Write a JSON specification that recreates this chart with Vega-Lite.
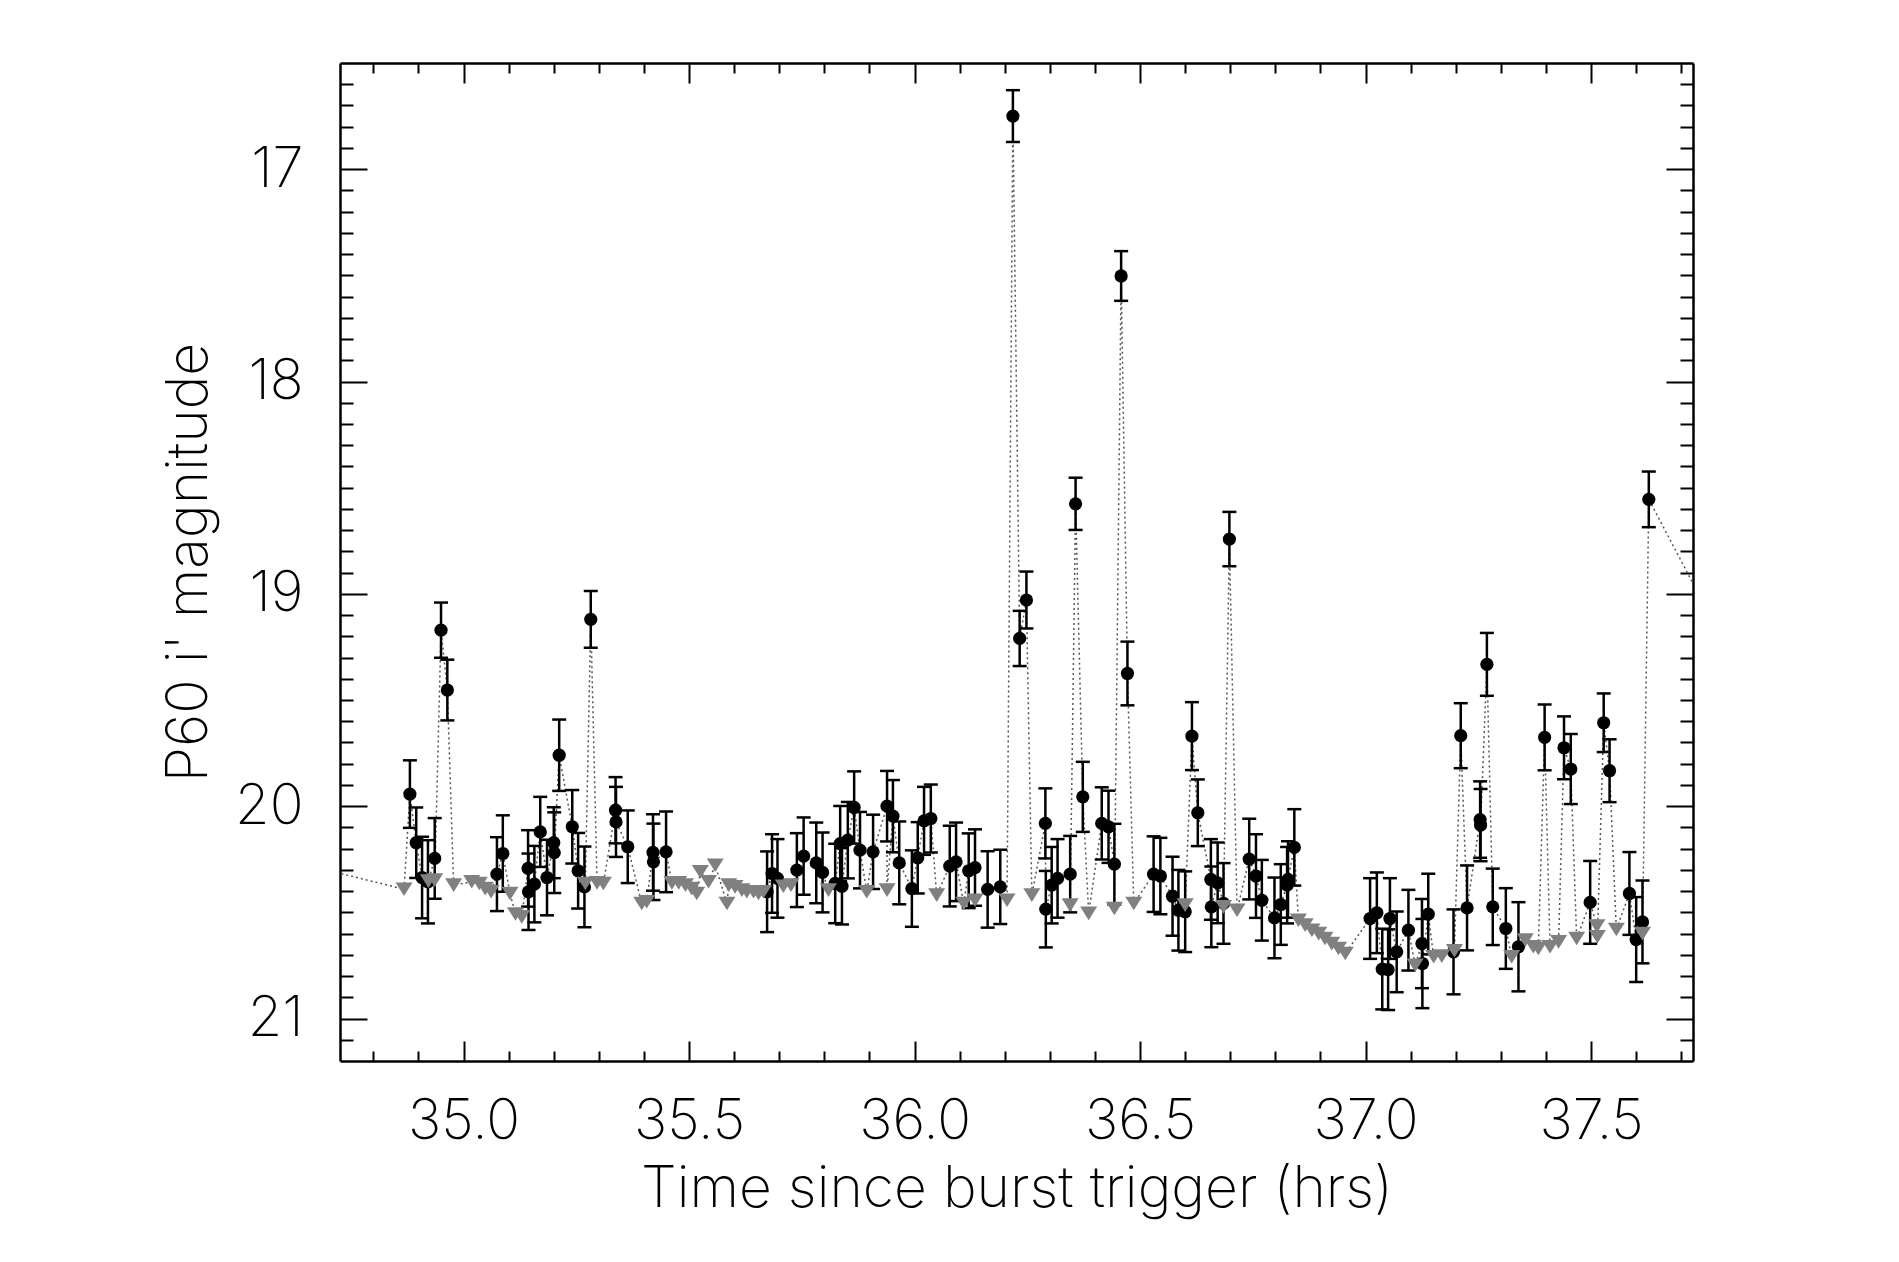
{
  "$schema": "https://vega.github.io/schema/vega-lite/v6.json",
  "width": 1353,
  "height": 998,
  "autosize": "none",
  "padding": {"left": 340, "top": 63, "right": 206, "bottom": 201},
  "background": "white",
  "config": {"view": {"stroke": null}, "axis": {"grid": false}},
  "datasets": {
    "obs": [
      {"t":34.6,"m":20.25,"k":"x"},
      {"t":37.8,"m":19.25,"k":"x"},
      {"t":34.881,"m":19.943,"lo":19.784,"hi":20.102,"k":"d"},
      {"t":34.895,"m":20.172,"lo":20.006,"hi":20.338,"k":"d"},
      {"t":34.908,"m":20.336,"lo":20.144,"hi":20.528,"k":"d"},
      {"t":34.921,"m":20.356,"lo":20.160,"hi":20.552,"k":"d"},
      {"t":34.936,"m":20.246,"lo":20.056,"hi":20.436,"k":"d"},
      {"t":34.950,"m":19.171,"lo":19.041,"hi":19.301,"k":"d"},
      {"t":34.964,"m":19.453,"lo":19.310,"hi":19.596,"k":"d"},
      {"t":35.074,"m":20.320,"lo":20.146,"hi":20.494,"k":"d"},
      {"t":35.087,"m":20.223,"lo":20.043,"hi":20.403,"k":"d"},
      {"t":35.143,"m":20.293,"lo":20.113,"hi":20.473,"k":"d"},
      {"t":35.144,"m":20.403,"lo":20.223,"hi":20.583,"k":"d"},
      {"t":35.157,"m":20.367,"lo":20.187,"hi":20.547,"k":"d"},
      {"t":35.170,"m":20.121,"lo":19.956,"hi":20.286,"k":"d"},
      {"t":35.185,"m":20.336,"lo":20.158,"hi":20.514,"k":"d"},
      {"t":35.200,"m":20.172,"lo":20.005,"hi":20.339,"k":"d"},
      {"t":35.201,"m":20.219,"lo":20.029,"hi":20.409,"k":"d"},
      {"t":35.212,"m":19.760,"lo":19.592,"hi":19.928,"k":"d"},
      {"t":35.241,"m":20.097,"lo":19.924,"hi":20.270,"k":"d"},
      {"t":35.254,"m":20.304,"lo":20.126,"hi":20.482,"k":"d"},
      {"t":35.268,"m":20.380,"lo":20.190,"hi":20.570,"k":"d"},
      {"t":35.282,"m":19.120,"lo":18.986,"hi":19.254,"k":"d"},
      {"t":35.337,"m":20.019,"lo":19.863,"hi":20.175,"k":"d"},
      {"t":35.338,"m":20.074,"lo":19.909,"hi":20.239,"k":"d"},
      {"t":35.364,"m":20.191,"lo":20.020,"hi":20.362,"k":"d"},
      {"t":35.420,"m":20.218,"lo":20.038,"hi":20.398,"k":"d"},
      {"t":35.421,"m":20.262,"lo":20.082,"hi":20.442,"k":"d"},
      {"t":35.449,"m":20.215,"lo":20.025,"hi":20.405,"k":"d"},
      {"t":35.673,"m":20.403,"lo":20.213,"hi":20.593,"k":"d"},
      {"t":35.684,"m":20.317,"lo":20.132,"hi":20.502,"k":"d"},
      {"t":35.696,"m":20.340,"lo":20.155,"hi":20.525,"k":"d"},
      {"t":35.739,"m":20.301,"lo":20.127,"hi":20.475,"k":"d"},
      {"t":35.754,"m":20.235,"lo":20.053,"hi":20.417,"k":"d"},
      {"t":35.782,"m":20.267,"lo":20.077,"hi":20.457,"k":"d"},
      {"t":35.796,"m":20.312,"lo":20.124,"hi":20.500,"k":"d"},
      {"t":35.824,"m":20.364,"lo":20.177,"hi":20.551,"k":"d"},
      {"t":35.835,"m":20.176,"lo":19.999,"hi":20.353,"k":"d"},
      {"t":35.839,"m":20.377,"lo":20.197,"hi":20.557,"k":"d"},
      {"t":35.852,"m":20.160,"lo":19.980,"hi":20.340,"k":"d"},
      {"t":35.866,"m":20.006,"lo":19.836,"hi":20.176,"k":"d"},
      {"t":35.879,"m":20.207,"lo":20.027,"hi":20.387,"k":"d"},
      {"t":35.908,"m":20.215,"lo":20.040,"hi":20.390,"k":"d"},
      {"t":35.939,"m":20.000,"lo":19.834,"hi":20.166,"k":"d"},
      {"t":35.952,"m":20.047,"lo":19.877,"hi":20.217,"k":"d"},
      {"t":35.966,"m":20.267,"lo":20.072,"hi":20.462,"k":"d"},
      {"t":35.994,"m":20.388,"lo":20.208,"hi":20.568,"k":"d"},
      {"t":36.007,"m":20.243,"lo":20.075,"hi":20.411,"k":"d"},
      {"t":36.021,"m":20.069,"lo":19.909,"hi":20.229,"k":"d"},
      {"t":36.036,"m":20.058,"lo":19.898,"hi":20.218,"k":"d"},
      {"t":36.078,"m":20.282,"lo":20.092,"hi":20.472,"k":"d"},
      {"t":36.092,"m":20.262,"lo":20.077,"hi":20.447,"k":"d"},
      {"t":36.120,"m":20.304,"lo":20.128,"hi":20.480,"k":"d"},
      {"t":36.134,"m":20.289,"lo":20.109,"hi":20.469,"k":"d"},
      {"t":36.162,"m":20.392,"lo":20.212,"hi":20.572,"k":"d"},
      {"t":36.190,"m":20.380,"lo":20.205,"hi":20.555,"k":"d"},
      {"t":36.218,"m":16.750,"lo":16.628,"hi":16.872,"k":"d"},
      {"t":36.233,"m":19.210,"lo":19.080,"hi":19.340,"k":"d"},
      {"t":36.248,"m":19.029,"lo":18.895,"hi":19.163,"k":"d"},
      {"t":36.290,"m":20.081,"lo":19.916,"hi":20.246,"k":"d"},
      {"t":36.291,"m":20.485,"lo":20.305,"hi":20.665,"k":"d"},
      {"t":36.304,"m":20.372,"lo":20.192,"hi":20.552,"k":"d"},
      {"t":36.317,"m":20.340,"lo":20.155,"hi":20.525,"k":"d"},
      {"t":36.345,"m":20.320,"lo":20.140,"hi":20.500,"k":"d"},
      {"t":36.357,"m":18.576,"lo":18.453,"hi":18.699,"k":"d"},
      {"t":36.373,"m":19.956,"lo":19.791,"hi":20.121,"k":"d"},
      {"t":36.415,"m":20.081,"lo":19.911,"hi":20.251,"k":"d"},
      {"t":36.430,"m":20.097,"lo":19.927,"hi":20.267,"k":"d"},
      {"t":36.443,"m":20.273,"lo":20.083,"hi":20.463,"k":"d"},
      {"t":36.458,"m":17.503,"lo":17.386,"hi":17.620,"k":"d"},
      {"t":36.472,"m":19.375,"lo":19.225,"hi":19.525,"k":"d"},
      {"t":36.530,"m":20.320,"lo":20.142,"hi":20.498,"k":"d"},
      {"t":36.545,"m":20.329,"lo":20.149,"hi":20.509,"k":"d"},
      {"t":36.572,"m":20.424,"lo":20.238,"hi":20.610,"k":"d"},
      {"t":36.585,"m":20.490,"lo":20.300,"hi":20.680,"k":"d"},
      {"t":36.600,"m":20.497,"lo":20.307,"hi":20.687,"k":"d"},
      {"t":36.615,"m":19.670,"lo":19.510,"hi":19.830,"k":"d"},
      {"t":36.628,"m":20.031,"lo":19.874,"hi":20.188,"k":"d"},
      {"t":36.657,"m":20.345,"lo":20.155,"hi":20.535,"k":"d"},
      {"t":36.658,"m":20.474,"lo":20.284,"hi":20.664,"k":"d"},
      {"t":36.672,"m":20.361,"lo":20.171,"hi":20.551,"k":"d"},
      {"t":36.685,"m":20.458,"lo":20.268,"hi":20.648,"k":"d"},
      {"t":36.698,"m":18.742,"lo":18.614,"hi":18.870,"k":"d"},
      {"t":36.742,"m":20.249,"lo":20.059,"hi":20.439,"k":"d"},
      {"t":36.757,"m":20.329,"lo":20.132,"hi":20.526,"k":"d"},
      {"t":36.770,"m":20.443,"lo":20.253,"hi":20.633,"k":"d"},
      {"t":36.798,"m":20.526,"lo":20.336,"hi":20.716,"k":"d"},
      {"t":36.812,"m":20.463,"lo":20.273,"hi":20.653,"k":"d"},
      {"t":36.826,"m":20.372,"lo":20.192,"hi":20.552,"k":"d"},
      {"t":36.828,"m":20.345,"lo":20.165,"hi":20.525,"k":"d"},
      {"t":36.842,"m":20.194,"lo":20.014,"hi":20.374,"k":"d"},
      {"t":37.010,"m":20.529,"lo":20.339,"hi":20.719,"k":"d"},
      {"t":37.025,"m":20.502,"lo":20.312,"hi":20.692,"k":"d"},
      {"t":37.037,"m":20.767,"lo":20.577,"hi":20.957,"k":"d"},
      {"t":37.050,"m":20.770,"lo":20.580,"hi":20.960,"k":"d"},
      {"t":37.054,"m":20.529,"lo":20.339,"hi":20.719,"k":"d"},
      {"t":37.069,"m":20.686,"lo":20.496,"hi":20.876,"k":"d"},
      {"t":37.095,"m":20.584,"lo":20.394,"hi":20.774,"k":"d"},
      {"t":37.125,"m":20.647,"lo":20.437,"hi":20.857,"k":"d"},
      {"t":37.126,"m":20.741,"lo":20.531,"hi":20.951,"k":"d"},
      {"t":37.139,"m":20.508,"lo":20.318,"hi":20.698,"k":"d"},
      {"t":37.195,"m":20.686,"lo":20.486,"hi":20.886,"k":"d"},
      {"t":37.211,"m":19.668,"lo":19.515,"hi":19.821,"k":"d"},
      {"t":37.225,"m":20.479,"lo":20.279,"hi":20.679,"k":"d"},
      {"t":37.254,"m":20.063,"lo":19.883,"hi":20.243,"k":"d"},
      {"t":37.255,"m":20.089,"lo":19.919,"hi":20.259,"k":"d"},
      {"t":37.269,"m":19.332,"lo":19.184,"hi":19.480,"k":"d"},
      {"t":37.282,"m":20.474,"lo":20.294,"hi":20.654,"k":"d"},
      {"t":37.311,"m":20.576,"lo":20.386,"hi":20.766,"k":"d"},
      {"t":37.339,"m":20.662,"lo":20.452,"hi":20.872,"k":"d"},
      {"t":37.397,"m":19.676,"lo":19.521,"hi":19.831,"k":"d"},
      {"t":37.440,"m":19.725,"lo":19.577,"hi":19.873,"k":"d"},
      {"t":37.455,"m":19.825,"lo":19.660,"hi":19.990,"k":"d"},
      {"t":37.498,"m":20.453,"lo":20.258,"hi":20.648,"k":"d"},
      {"t":37.528,"m":19.607,"lo":19.469,"hi":19.745,"k":"d"},
      {"t":37.541,"m":19.833,"lo":19.685,"hi":19.981,"k":"d"},
      {"t":37.585,"m":20.411,"lo":20.216,"hi":20.606,"k":"d"},
      {"t":37.600,"m":20.628,"lo":20.428,"hi":20.828,"k":"d"},
      {"t":37.614,"m":20.545,"lo":20.350,"hi":20.740,"k":"d"},
      {"t":37.628,"m":18.555,"lo":18.424,"hi":18.686,"k":"d"},
      {"t":34.868,"m":20.391,"k":"u"},
      {"t":34.922,"m":20.353,"k":"u"},
      {"t":34.936,"m":20.348,"k":"u"},
      {"t":34.978,"m":20.372,"k":"u"},
      {"t":35.018,"m":20.356,"k":"u"},
      {"t":35.035,"m":20.364,"k":"u"},
      {"t":35.048,"m":20.388,"k":"u"},
      {"t":35.061,"m":20.403,"k":"u"},
      {"t":35.103,"m":20.411,"k":"u"},
      {"t":35.115,"m":20.508,"k":"u"},
      {"t":35.129,"m":20.521,"k":"u"},
      {"t":35.270,"m":20.364,"k":"u"},
      {"t":35.296,"m":20.361,"k":"u"},
      {"t":35.310,"m":20.364,"k":"u"},
      {"t":35.395,"m":20.458,"k":"u"},
      {"t":35.406,"m":20.450,"k":"u"},
      {"t":35.462,"m":20.361,"k":"u"},
      {"t":35.477,"m":20.361,"k":"u"},
      {"t":35.492,"m":20.372,"k":"u"},
      {"t":35.506,"m":20.388,"k":"u"},
      {"t":35.517,"m":20.411,"k":"u"},
      {"t":35.525,"m":20.309,"k":"u"},
      {"t":35.543,"m":20.356,"k":"u"},
      {"t":35.558,"m":20.278,"k":"u"},
      {"t":35.584,"m":20.458,"k":"u"},
      {"t":35.588,"m":20.372,"k":"u"},
      {"t":35.602,"m":20.380,"k":"u"},
      {"t":35.617,"m":20.395,"k":"u"},
      {"t":35.628,"m":20.403,"k":"u"},
      {"t":35.643,"m":20.403,"k":"u"},
      {"t":35.654,"m":20.411,"k":"u"},
      {"t":35.665,"m":20.403,"k":"u"},
      {"t":35.709,"m":20.377,"k":"u"},
      {"t":35.726,"m":20.372,"k":"u"},
      {"t":35.809,"m":20.395,"k":"u"},
      {"t":35.894,"m":20.403,"k":"u"},
      {"t":35.939,"m":20.395,"k":"u"},
      {"t":36.049,"m":20.419,"k":"u"},
      {"t":36.109,"m":20.458,"k":"u"},
      {"t":36.134,"m":20.443,"k":"u"},
      {"t":36.205,"m":20.443,"k":"u"},
      {"t":36.260,"m":20.419,"k":"u"},
      {"t":36.345,"m":20.466,"k":"u"},
      {"t":36.386,"m":20.505,"k":"u"},
      {"t":36.443,"m":20.482,"k":"u"},
      {"t":36.486,"m":20.458,"k":"u"},
      {"t":36.600,"m":20.466,"k":"u"},
      {"t":36.685,"m":20.474,"k":"u"},
      {"t":36.715,"m":20.490,"k":"u"},
      {"t":36.851,"m":20.537,"k":"u"},
      {"t":36.866,"m":20.560,"k":"u"},
      {"t":36.881,"m":20.584,"k":"u"},
      {"t":36.896,"m":20.600,"k":"u"},
      {"t":36.910,"m":20.623,"k":"u"},
      {"t":36.925,"m":20.647,"k":"u"},
      {"t":36.940,"m":20.670,"k":"u"},
      {"t":36.955,"m":20.694,"k":"u"},
      {"t":37.110,"m":20.749,"k":"u"},
      {"t":37.151,"m":20.709,"k":"u"},
      {"t":37.169,"m":20.706,"k":"u"},
      {"t":37.197,"m":20.681,"k":"u"},
      {"t":37.324,"m":20.709,"k":"u"},
      {"t":37.354,"m":20.631,"k":"u"},
      {"t":37.372,"m":20.662,"k":"u"},
      {"t":37.383,"m":20.670,"k":"u"},
      {"t":37.409,"m":20.662,"k":"u"},
      {"t":37.428,"m":20.639,"k":"u"},
      {"t":37.468,"m":20.623,"k":"u"},
      {"t":37.513,"m":20.565,"k":"u"},
      {"t":37.514,"m":20.615,"k":"u"},
      {"t":37.556,"m":20.581,"k":"u"},
      {"t":37.614,"m":20.600,"k":"u"}
    ]
  },
  "data": {"name": "obs"},
  "resolve": {"axis": {"x": "independent", "y": "independent"}},
  "layer": [
    {
      "mark": {"type": "line", "strokeDash": [2, 3], "strokeWidth": 1.5, "color": "#555555", "clip": true},
      "encoding": {
        "x": {"field": "t", "type": "quantitative", "scale": {"domain": [34.726, 37.726], "nice": false, "zero": false},
          "axis": {"orient": "bottom", "values": [35, 35.5, 36, 36.5, 37, 37.5], "tickSize": -20, "tickWidth": 2, "tickColor": "black", "labels": false, "title": null, "domain": true, "domainColor": "black", "domainWidth": 2.5}},
        "y": {"field": "m", "type": "quantitative", "scale": {"domain": [16.5, 21.2], "reverse": true, "nice": false, "zero": false},
          "axis": {"orient": "left", "values": [17, 18, 19, 20, 21], "tickSize": -27, "tickWidth": 2, "tickColor": "black", "labels": false, "title": null, "domain": true, "domainColor": "black", "domainWidth": 2.5}}
      }
    },
    {
      "transform": [{"filter": "datum.k == 'd'"}],
      "mark": {"type": "rule", "color": "black", "strokeWidth": 2.5},
      "encoding": {
        "x": {"field": "t", "type": "quantitative",
          "axis": {"orient": "bottom", "values": [34.8, 34.9, 35.1, 35.2, 35.3, 35.4, 35.6, 35.7, 35.8, 35.9, 36.1, 36.2, 36.3, 36.4, 36.6, 36.7, 36.8, 36.9, 37.1, 37.2, 37.3, 37.4, 37.6, 37.7], "tickSize": -10, "tickWidth": 2, "tickColor": "black", "labels": false, "title": null, "domain": false}},
        "y": {"field": "lo", "type": "quantitative",
          "axis": {"orient": "left", "values": [16.6, 16.7, 16.8, 16.9, 17.1, 17.2, 17.3, 17.4, 17.5, 17.6, 17.7, 17.8, 17.9, 18.1, 18.2, 18.3, 18.4, 18.5, 18.6, 18.7, 18.8, 18.9, 19.1, 19.2, 19.3, 19.4, 19.5, 19.6, 19.7, 19.8, 19.9, 20.1, 20.2, 20.3, 20.4, 20.5, 20.6, 20.7, 20.8, 20.9, 21.1], "tickSize": -13, "tickWidth": 2, "tickColor": "black", "labels": false, "title": null, "domain": false}},
        "y2": {"field": "hi"}
      }
    },
    {
      "transform": [{"filter": "datum.k == 'd'"}],
      "mark": {"type": "tick", "orient": "horizontal", "color": "black", "size": 14, "thickness": 2.5, "opacity": 1},
      "encoding": {
        "x": {"field": "t", "type": "quantitative",
          "axis": {"orient": "top", "values": [35, 35.5, 36, 36.5, 37, 37.5], "tickSize": -20, "tickWidth": 2, "tickColor": "black", "labels": false, "title": null, "domain": true, "domainColor": "black", "domainWidth": 2.5}},
        "y": {"field": "lo", "type": "quantitative",
          "axis": {"orient": "right", "values": [17, 18, 19, 20, 21], "tickSize": -27, "tickWidth": 2, "tickColor": "black", "labels": false, "title": null, "domain": true, "domainColor": "black", "domainWidth": 2.5}}
      }
    },
    {
      "transform": [{"filter": "datum.k == 'd'"}],
      "mark": {"type": "tick", "orient": "horizontal", "color": "black", "size": 14, "thickness": 2.5, "opacity": 1},
      "encoding": {
        "x": {"field": "t", "type": "quantitative",
          "axis": {"orient": "top", "values": [34.8, 34.9, 35.1, 35.2, 35.3, 35.4, 35.6, 35.7, 35.8, 35.9, 36.1, 36.2, 36.3, 36.4, 36.6, 36.7, 36.8, 36.9, 37.1, 37.2, 37.3, 37.4, 37.6, 37.7], "tickSize": -10, "tickWidth": 2, "tickColor": "black", "labels": false, "title": null, "domain": false}},
        "y": {"field": "hi", "type": "quantitative",
          "axis": {"orient": "right", "values": [16.6, 16.7, 16.8, 16.9, 17.1, 17.2, 17.3, 17.4, 17.5, 17.6, 17.7, 17.8, 17.9, 18.1, 18.2, 18.3, 18.4, 18.5, 18.6, 18.7, 18.8, 18.9, 19.1, 19.2, 19.3, 19.4, 19.5, 19.6, 19.7, 19.8, 19.9, 20.1, 20.2, 20.3, 20.4, 20.5, 20.6, 20.7, 20.8, 20.9, 21.1], "tickSize": -13, "tickWidth": 2, "tickColor": "black", "labels": false, "title": null, "domain": false}}
      }
    },
    {
      "transform": [{"filter": "datum.k == 'd'"}],
      "mark": {"type": "point", "shape": "circle", "filled": true, "color": "black", "size": 175, "opacity": 1},
      "encoding": {
        "x": {"field": "t", "type": "quantitative",
          "axis": {"orient": "bottom", "values": [35, 35.5, 36, 36.5, 37, 37.5], "format": ".1f", "ticks": false, "domain": false, "labelPadding": 33, "labelFont": "Inter", "labelFontWeight": 200, "labelFontSize": 56, "labelColor": "black", "labelFlush": false, "labelOverlap": false,
            "title": "Time since burst trigger (hrs)", "titleFont": "Inter", "titleFontWeight": 200, "titleFontSize": 57, "titleColor": "black", "titlePadding": 12}},
        "y": {"field": "m", "type": "quantitative",
          "axis": {"orient": "left", "values": [17, 18, 19, 20, 21], "format": "d", "ticks": false, "domain": false, "labelPadding": 37, "labelFont": "Inter", "labelFontWeight": 200, "labelFontSize": 56, "labelColor": "black", "labelFlush": false, "labelOverlap": false,
            "title": "P60 i' magnitude", "titleFont": "Inter", "titleFontWeight": 200, "titleFontSize": 57, "titleColor": "black", "titlePadding": 16}}
      }
    },
    {
      "transform": [{"filter": "datum.k == 'u'"}],
      "mark": {"type": "point", "shape": "M-1,-0.8L1,-0.8L0,0.8Z", "filled": true, "color": "#808080", "size": 290, "opacity": 1},
      "encoding": {
        "x": {"field": "t", "type": "quantitative", "axis": null},
        "y": {"field": "m", "type": "quantitative", "axis": null}
      }
    }
  ]
}
